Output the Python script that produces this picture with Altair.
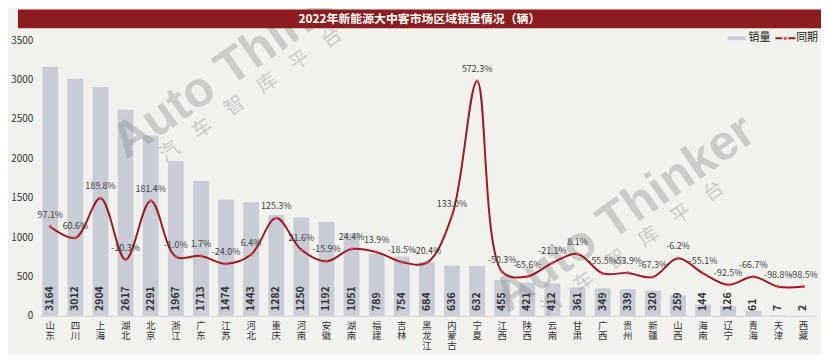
import altair as alt
import pandas as pd

provinces = ["山东", "四川", "上海", "湖北", "北京", "浙江", "广东", "江苏", "河北", "重庆",
             "河南", "安徽", "湖南", "福建", "吉林", "黑龙江", "内蒙古", "宁夏", "江西", "陕西",
             "云南", "甘肃", "广西", "贵州", "新疆", "山西", "海南", "辽宁", "青海", "天津", "西藏"]
sales = [3164, 3012, 2904, 2617, 2291, 1967, 1713, 1474, 1443, 1282,
         1250, 1192, 1051, 789, 754, 684, 636, 632, 455, 421,
         412, 361, 349, 339, 320, 259, 144, 126, 61, 7, 2]
yoy = [97.1, 60.6, 189.8, -10.3, 181.4, -1.0, 1.7, -24.0, 6.4, 125.3,
       21.6, -15.9, 24.4, 13.9, -18.5, -20.4, 133.0, 572.3, -50.3, -65.6,
       -21.1, 8.1, -55.5, -53.9, -67.3, -6.2, -55.1, -92.5, -66.7, -98.8, -98.5]
y_ticks = [0, 500, 1000, 1500, 2000, 2500, 3000, 3500]

title_text = "2022年新能源大中客市场区域销量情况（辆）"
legend_bar = "销量"
legend_line = "同期"

BG = "#F1F2EE"
BAR = "#C8CCD7"
RED = "#9C1B1F"
TITLEBAR = "#8C1D1F"
FONT = "Noto Sans CJK SC"

df = pd.DataFrame({"省份": provinces, "销量": sales, "同期": yoy})
df["pct"] = [f"{v:.1f}%" for v in yoy]

W, H = 785, 278

xenc = alt.X(
    "省份:N", sort=provinces, title=None,
    scale=alt.Scale(paddingInner=0.37, paddingOuter=0.185),
    axis=alt.Axis(labelAngle=0, labelExpr="split(datum.label, '')",
                  labelFontSize=9.5, labelLineHeight=10, labelPadding=5,
                  labelBaseline="top", labelColor="#333333", labelFont=FONT,
                  ticks=False, domainColor="#D4D4D4", domainWidth=1,
                  grid=False),
)
ysales = alt.Scale(domain=[0, 3500], nice=False, zero=True)
ypct = alt.Scale(domain=[-194, 706], nice=False, zero=False)

base = alt.Chart(df)

bars = base.mark_bar(color=BAR).encode(
    x=xenc,
    y=alt.Y("销量:Q", scale=ysales, title=None,
            axis=alt.Axis(values=y_ticks, format="d", labelFontSize=10,
                          labelColor="#333333", labelFont=FONT, labelPadding=5,
                          ticks=False, domain=False, grid=False)),
)

bar_labels = base.mark_text(angle=270, align="left", baseline="middle", yOffset=-5,
                            fontSize=10.5, fontWeight="bold", color="#333333",
                            font=FONT).encode(
    x=alt.X("省份:N", sort=provinces),
    y=alt.Y(datum=0, scale=ysales, axis=None),
    text="销量:Q",
)

line = base.mark_line(color=RED, strokeWidth=2, interpolate="catmull-rom").encode(
    x=alt.X("省份:N", sort=provinces),
    y=alt.Y("同期:Q", scale=ypct, axis=None),
)
points = base.mark_point(filled=True, color="#D4474B", size=10, opacity=1).encode(
    x=alt.X("省份:N", sort=provinces),
    y=alt.Y("同期:Q", scale=ypct, axis=None),
)
pct_labels = base.mark_text(fontSize=9, color="#404040", dy=-12, font=FONT).encode(
    x=alt.X("省份:N", sort=provinces),
    y=alt.Y("同期:Q", scale=ypct, axis=None),
    text="pct:N",
)

one = pd.DataFrame({"k": [0]})
deco = alt.Chart(one)

wm_style = dict(angle=325, color="#808080", opacity=0.33)
wm1 = deco.mark_text(fontSize=50, fontWeight="bold", font="Liberation Sans",
                     **wm_style).encode(x=alt.value(207), y=alt.value(20),
                                        text=alt.value("Auto Thinker"))
wm1c = deco.mark_text(fontSize=20, font=FONT, **wm_style).encode(
    x=alt.value(215), y=alt.value(55), text=alt.value("汽　车　智　库　平　台"))
wm2 = deco.mark_text(fontSize=50, fontWeight="bold", font="Liberation Sans",
                     **wm_style).encode(x=alt.value(592), y=alt.value(175),
                                        text=alt.value("Auto Thinker"))
wm2c = deco.mark_text(fontSize=20, font=FONT, **wm_style).encode(
    x=alt.value(600), y=alt.value(210), text=alt.value("汽　车　智　库　平　台"))

tbar = deco.mark_rect(color=TITLEBAR).encode(
    x=alt.value(-20), x2=alt.value(800), y=alt.value(-31), y2=alt.value(-12))
ttext = deco.mark_text(color="white", fontSize=12, fontWeight="bold", font=FONT,
                       baseline="middle").encode(
    x=alt.value(385), y=alt.value(-21.5), text=alt.value(title_text))

lg_sw = deco.mark_rect(color=BAR).encode(
    x=alt.value(696), x2=alt.value(714), y=alt.value(-4), y2=alt.value(0))
lg_t1 = deco.mark_text(align="left", baseline="middle", fontSize=11, color="#222222",
                       font=FONT).encode(x=alt.value(717), y=alt.value(-2),
                                         text=alt.value(legend_bar))
lg_ln = deco.mark_rule(color=RED, strokeWidth=2, strokeDash=[7, 2, 2, 2]).encode(
    x=alt.value(744), x2=alt.value(764), y=alt.value(-2))
lg_pt = deco.mark_point(filled=True, color="#D4474B", size=10, opacity=1).encode(
    x=alt.value(754), y=alt.value(-2))
lg_t2 = deco.mark_text(align="left", baseline="middle", fontSize=11, color="#222222",
                       font=FONT).encode(x=alt.value(765), y=alt.value(-2),
                                         text=alt.value(legend_line))

chart = alt.layer(
    bars, wm1, wm1c, wm2, wm2c, bar_labels, line, points, pct_labels,
    tbar, ttext, lg_sw, lg_t1, lg_ln, lg_pt, lg_t2,
).resolve_scale(y="independent").properties(
    width=W, height=H,
    autosize=alt.AutoSizeParams(type="none"),
    padding={"left": 30, "top": 31, "right": 5, "bottom": 37},
    background=BG,
).configure_view(stroke=None)

chart.save("out.html", embed_options={"renderer": "svg", "actions": False})
